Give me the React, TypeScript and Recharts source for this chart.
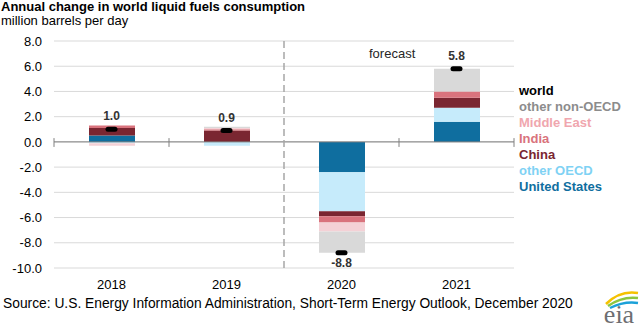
import React from 'react';
import { ComposedChart, Bar, Line, XAxis, YAxis, CartesianGrid, ReferenceLine, LabelList } from 'recharts';

const years = ['2018', '2019', '2020', '2021'];
const unitedStates = [0.5, 0.0, -2.4, 1.6];
const otherOECD = [-0.1, -0.3, -3.1, 1.1];
const china = [0.6, 0.9, -0.4, 0.8];
const india = [0.2, 0.1, -0.5, 0.5];
const middleEast = [-0.2, 0.1, -0.7, 0.0];
const otherNonOECD = [0.0, 0.1, -1.7, 1.8];
const world = [1.0, 0.9, -8.8, 5.8];
const yTicks = [8, 6, 4, 2, 0, -2, -4, -6, -8, -10];

const FONT = '"Liberation Sans", Arial, sans-serif';

const series = [
    { key: 'us', name: 'United States', fill: '#0f6e9f', text: '#0f6e9f' },
    { key: 'otherOECD', name: 'other OECD', fill: '#c6ebfb', text: '#7fd2f4' },
    { key: 'china', name: 'China', fill: '#7a2631', text: '#7a2631' },
    { key: 'india', name: 'India', fill: '#d9737d', text: '#d9737d' },
    { key: 'middleEast', name: 'Middle East', fill: '#f4d1d6', text: '#f0a6ae' },
    { key: 'otherNonOECD', name: 'other non-OECD', fill: '#d9d9d9', text: '#8c8c8c' },
];

const data = years.map((year, i) => ({
    x: i + 0.5,
    year,
    us: unitedStates[i],
    otherOECD: otherOECD[i],
    china: china[i],
    india: india[i],
    middleEast: middleEast[i],
    otherNonOECD: otherNonOECD[i],
    world: world[i],
}));

const WorldMarker = (props: any) => {
    const { cx, cy, index } = props;
    if (cx == null || cy == null) return null;
    return <rect key={index} x={cx - 6} y={cy - 2.5} width={12} height={5} rx={2.5} fill="#000" />;
};

const WorldLabel = (props: any) => {
    const { x, y, value } = props;
    const dy = value < 0 ? 11 : -12;
    return (
        <text x={x} y={y + dy} textAnchor="middle" dominantBaseline="middle"
            fontFamily={FONT} fontSize={12} fontWeight="bold" fill="#333">
            {value.toFixed(1)}
        </text>
    );
};

const boundaryTicks = [0, 1, 3, 4];

export default function App() {
    return (
        <div style={{ position: 'absolute', left: 0, top: 0, width: 643, height: 329, background: '#fff', fontFamily: FONT }}>
            <div style={{ position: 'absolute', left: 1, top: 0, fontSize: 13, fontWeight: 'bold', lineHeight: '14px', color: '#000', whiteSpace: 'nowrap' }}>
                Annual change in world liquid fuels consumption
            </div>
            <div style={{ position: 'absolute', left: 1, top: 14, fontSize: 13, lineHeight: '14px', color: '#000', whiteSpace: 'nowrap' }}>
                million barrels per day
            </div>

            <ComposedChart width={643} height={329} data={data} stackOffset="sign"
                margin={{ top: 41, right: 129, bottom: 31, left: 8 }}>
                <CartesianGrid vertical={false} stroke="#d9d9d9" />
                <XAxis type="number" dataKey="x" domain={[0, 4]} ticks={[0.5, 1.5, 2.5, 3.5]}
                    tickFormatter={(v: number) => years[Math.floor(v)]}
                    axisLine={false} tickLine={false} height={30} tickMargin={6}
                    tick={{ fontFamily: FONT, fontSize: 13, fill: '#000' }} />
                <YAxis type="number" domain={[-10, 8]} ticks={yTicks} interval={0}
                    tickFormatter={(v: number) => v.toFixed(1)}
                    axisLine={false} tickLine={false} tickSize={0} tickMargin={12} width={46}
                    tick={{ fontFamily: FONT, fontSize: 13, fill: '#000' }} />
                {series.map((s) => (
                    <Bar key={s.key} dataKey={s.key} name={s.name} stackId="a" fill={s.fill}
                        barSize={46} isAnimationActive={false} />
                ))}
                <ReferenceLine y={0} stroke="#808080" strokeWidth={1} />
                {boundaryTicks.map((b) => (
                    <ReferenceLine key={b} segment={[{ x: b, y: 0.3 }, { x: b, y: -0.4 }]} stroke="#808080" />
                ))}
                <ReferenceLine x={2} stroke="#a6a6a6" strokeWidth={1.5} strokeDasharray="7 4" />
                <Line dataKey="world" stroke="none" dot={<WorldMarker />} activeDot={false}
                    isAnimationActive={false}>
                    <LabelList dataKey="world" content={<WorldLabel />} />
                </Line>
            </ComposedChart>

            <div style={{ position: 'absolute', left: 369, top: 46, fontSize: 13, lineHeight: '16px', color: '#262626' }}>
                forecast
            </div>

            <div style={{ position: 'absolute', left: 519, top: 83, fontSize: 13, fontWeight: 'bold', lineHeight: '16px', whiteSpace: 'nowrap' }}>
                <div style={{ color: '#000' }}>world</div>
                {[...series].reverse().map((s) => (
                    <div key={s.key} style={{ color: s.text }}>{s.name}</div>
                ))}
            </div>

            <div style={{ position: 'absolute', left: 3, top: 296, fontSize: 13.8, lineHeight: '16px', color: '#000', whiteSpace: 'nowrap' }}>
                Source: U.S. Energy Information Administration, Short-Term Energy Outlook, December 2020
            </div>

            <svg style={{ position: 'absolute', left: 598, top: 288 }} width={42} height={40}>
                <path d="M8 16 Q 22 2 40 5" stroke="#f5c200" strokeWidth={2.5} fill="none" />
                <path d="M10 18 Q 24 8 40 10" stroke="#8dc63f" strokeWidth={2.5} fill="none" />
                <path d="M12 20 Q 26 13 40 15" stroke="#1ba1d8" strokeWidth={2.5} fill="none" />
                <text x={21} y={35} textAnchor="middle" fontFamily='"Liberation Serif", "DejaVu Serif", serif'
                    fontSize={26} fill="#6d6e71">eia</text>
            </svg>
        </div>
    );
}
